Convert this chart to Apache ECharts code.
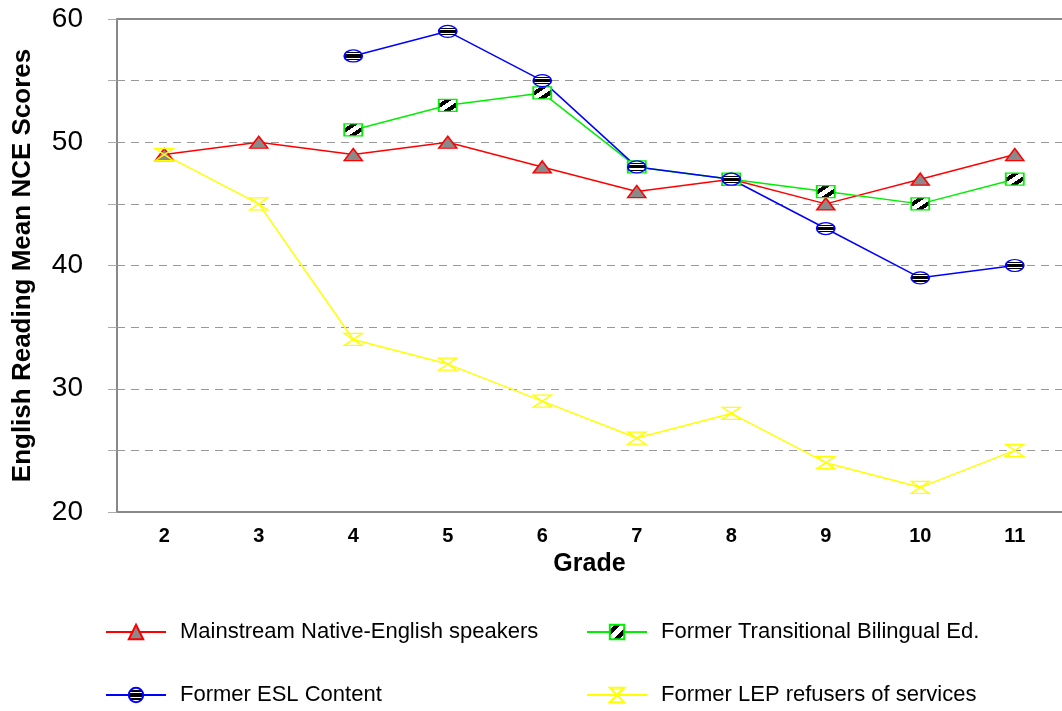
<!DOCTYPE html>
<html>
<head>
<meta charset="utf-8">
<script src="https://cdn.jsdelivr.net/npm/echarts@6/dist/echarts.min.js"></script>
<style>
  html, body { margin: 0; padding: 0; background: #fff; }
  #chart { width: 1062px; height: 711px; }
</style>
</head>
<body>
<div id="chart"></div>
<script>
// grades on the x axis
const grades = ['2', '3', '4', '5', '6', '7', '8', '9', '10', '11'];
// mean NCE scores per group ('-' = no value)
const mainstream = [49, 50, 49, 50, 48, 46, 47, 45, 47, 49];
const transitional = ['-', '-', 51, 53, 54, 48, 47, 46, 45, 47];
const eslContent = ['-', '-', 57, 59, 55, 48, 47, 43, 39, 40];
const lepRefusers = [49, 45, 34, 32, 29, 26, 28, 24, 22, 25];
const yTickLabels = [20, 30, 40, 50, 60];

const FONT = '"Liberation Sans", Arial, sans-serif';

// hard-stop gradients for the marker fills (symbols are scaled, so no bitmap patterns)
function bands(x2, y2, cuts) {
  const stops = [];
  let dark = false;
  let prev = 0;
  cuts.concat([1]).forEach(function (c) {
    const col = dark ? '#000' : '#fff';
    stops.push({ offset: prev, color: col }, { offset: c, color: col });
    dark = !dark;
    prev = c;
  });
  return { type: 'linear', x: 0, y: 0, x2: x2, y2: y2, colorStops: stops };
}
const hatch = bands(1, 1, [0.22, 0.4, 0.6, 0.78]);
const stripes = bands(0, 1, [0.22, 0.3, 0.38, 0.62, 0.7, 0.78]);

const hourglass = 'path://M0,0L20,0L0,14L20,14Z';

function lineSeries(name, data, color, symbol, fill, border) {
  return {
    name: name,
    type: 'line',
    data: data,
    symbol: symbol,
    symbolSize: [18, 12],
    showAllSymbol: true,
    lineStyle: { color: color, width: 1.5 },
    itemStyle: { color: fill, borderColor: border, borderWidth: 1.5 },
    emphasis: { disabled: true }
  };
}

function legendAt(name, left, top) {
  return {
    data: [name],
    left: left,
    top: top,
    itemWidth: 60,
    itemHeight: 18,
    textStyle: { fontFamily: FONT, fontSize: 22, color: '#000', padding: [0, 0, 0, 9] }
  };
}

const option = {
  backgroundColor: '#fff',
  animation: false,
  grid: { left: 117, right: -5, top: 19, bottom: 199 },
  legend: [
    legendAt('Mainstream Native-English speakers', 100, 616),
    legendAt('Former Transitional Bilingual Ed.', 581, 616),
    legendAt('Former ESL Content', 100, 679),
    legendAt('Former LEP refusers of services', 581, 679)
  ],
  xAxis: [
    {
      type: 'category',
      data: grades,
      position: 'bottom',
      name: 'Grade',
      nameLocation: 'middle',
      nameGap: 40,
      nameTextStyle: { fontFamily: FONT, fontSize: 25, fontWeight: 'bold', color: '#000' },
      axisLine: { lineStyle: { color: '#888', width: 2 } },
      axisTick: { alignWithLabel: true, length: 10, lineStyle: { color: '#888', width: 2 } },
      axisLabel: { fontFamily: FONT, fontSize: 20, fontWeight: 'bold', color: '#000', margin: 14 },
      splitLine: { show: false }
    },
    {
      type: 'category',
      data: grades,
      position: 'bottom',
      axisLine: { show: false },
      axisTick: { alignWithLabel: true, inside: true, length: 10, lineStyle: { color: '#888', width: 2 } },
      axisLabel: { show: false },
      splitLine: { show: false }
    },
    {
      type: 'category',
      data: grades,
      position: 'top',
      axisLine: { lineStyle: { color: '#888', width: 2 } },
      axisTick: { show: false },
      axisLabel: { show: false },
      splitLine: { show: false }
    }
  ],
  yAxis: {
    type: 'value',
    min: 20,
    max: 60,
    interval: 5,
    name: 'English Reading Mean NCE Scores',
    nameLocation: 'middle',
    nameGap: 81,
    nameTextStyle: { fontFamily: FONT, fontSize: 26, fontWeight: 'bold', color: '#000' },
    axisLine: { show: true, lineStyle: { color: '#888', width: 2 } },
    axisTick: { show: true, length: 9, lineStyle: { color: '#aaa', width: 1 } },
    axisLabel: {
      fontFamily: FONT, fontSize: 28, color: '#000', margin: 34,
      formatter: function (v) { return yTickLabels.indexOf(v) >= 0 ? String(v) : ''; }
    },
    splitLine: { show: true, lineStyle: { color: '#999', type: [8, 6], width: 1 } }
  },
  series: [
    lineSeries('Mainstream Native-English speakers', mainstream, '#ff0000', 'triangle', '#8a8a8a', '#ff0000'),
    lineSeries('Former Transitional Bilingual Ed.', transitional, '#00ee00', 'rect', hatch, '#00ee00'),
    lineSeries('Former ESL Content', eslContent, '#0000ff', 'circle', stripes, '#0000ff'),
    lineSeries('Former LEP refusers of services', lepRefusers, '#ffff00', hourglass, 'rgba(255,255,255,0)', '#ffff00')
  ]
};

const chart = echarts.init(document.getElementById('chart'));
chart.setOption(option);
window.addEventListener('resize', () => {
  chart.resize();
});
</script>
</body>
</html>
